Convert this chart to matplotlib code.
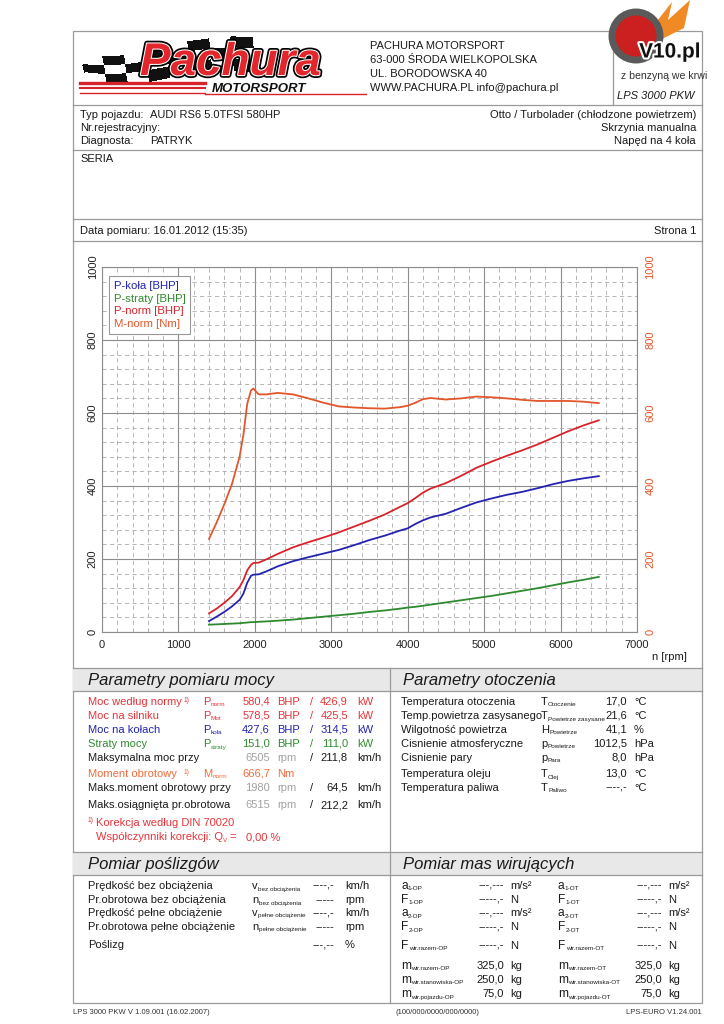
import numpy as np
import matplotlib.pyplot as plt
import matplotlib.patheffects as pe
from matplotlib.colors import ListedColormap
from matplotlib.patches import Rectangle, Circle, Polygon

plt.rcParams['font.family'] = ['Liberation Sans', 'DejaVu Sans']

# dyno run
rpm = [1400, 1500, 1600, 1700, 1800, 1850, 1900, 1950, 1980, 2050, 2150, 2300,
       2500, 2700, 2900, 3100, 3300, 3500, 3700, 3900, 4000, 4100, 4200, 4300,
       4500, 4700, 4900, 5100, 5300, 5500, 5700, 5900, 6100, 6300, 6500]
p_kola = [30, 42, 55, 70, 88, 105, 135, 154, 157, 158, 166, 180,
          194, 205, 215, 225, 238, 252, 264, 278, 284, 296, 306, 314,
          324, 340, 355, 366, 376, 384, 394, 405, 414, 421, 427]
p_straty = [20, 21, 22, 23, 24, 25, 26, 27, 27, 28, 29, 31,
            34, 38, 42, 46, 50, 55, 59, 64, 67, 69, 72, 75,
            81, 87, 93, 99, 106, 113, 120, 128, 136, 143, 151]
p_norm = [51, 64, 80, 98, 123, 142, 169, 184, 189, 190, 199, 214,
          232, 246, 259, 273, 289, 305, 322, 343, 353, 367, 382, 393,
          408, 428, 450, 467, 483, 498, 514, 532, 550, 566, 580]
m_norm = [255, 300, 350, 405, 480, 540, 625, 662, 667, 651, 651, 655,
          651, 640, 628, 618, 615, 613, 612, 616, 620, 628, 638, 641,
          637, 640, 645, 643, 640, 636, 633, 633, 633, 631, 627]

x_ticks = [0, 1000, 2000, 3000, 4000, 5000, 6000, 7000]
y_ticks = [0, 200, 400, 600, 800, 1000]

C_BLUE = '#2323b0'
C_GREEN = '#2e8a2e'
C_RED = '#d8232a'
C_ORANGE = '#e2562a'
C_TXT_RED = '#e5343a'
C_TXT_ORANGE = '#ee6b3e'
C_GRAY = '#a3a3a3'
C_LINE = '#9a9a9a'

W, H = 724, 1024
fig = plt.figure(figsize=(W / 100, H / 100), dpi=100)
bg = fig.add_axes([0, 0, 1, 1])
bg.set_xlim(0, W)
bg.set_ylim(H, 0)
bg.axis('off')
renderer = fig.canvas.get_renderer()

FS = 8


def txt(x, y, s, size=FS, color='#1a1a1a', ha='left', **kw):
    return bg.text(x, y, s, fontsize=size, color=color, ha=ha, va='center', **kw)


def sym(x, y, main, sub, color='#1a1a1a', size=FS, subsize=4.6):
    t = txt(x, y, main, size, color)
    bb = t.get_window_extent(renderer)
    x1 = bg.transData.inverted().transform((bb.x1, bb.y0))[0]
    return txt(x1 + 0.3, y + 3, sub, subsize, color)


def hline(y, x0=73, x1=702):
    bg.plot([x0, x1], [y, y], color=C_LINE, lw=0.9)


def vline(x, y0, y1):
    bg.plot([x, x], [y0, y1], color=C_LINE, lw=0.9)


# frame
bg.add_patch(Rectangle((73, 31), 629, 972, fill=False, ec=C_LINE, lw=0.9))
hline(105)
vline(613, 31, 105)
hline(150)
hline(219)
hline(241)

# Pachura logo: waving checkered flag
nu, nv = 8, 3
U, V = np.meshgrid(np.linspace(0, 1, nu + 1), np.linspace(0, 1, nv + 1))
FX = 82 + 170 * U + 4 * V
FY = 56 - 18 * U + 4 * np.sin(np.pi * 2 * U) + V * (26 + 8 * U)
checks = np.add.outer(np.arange(nv), np.arange(nu)) % 2
bg.pcolormesh(FX, FY, checks, cmap=ListedColormap(['white', '#111111']),
              shading='flat', edgecolors='face', lw=0.3)
for yy, lw in [(83, 2.4), (88, 1.5), (93, 1.0)]:
    bg.plot([80, 205], [yy, yy], color=C_RED, lw=lw)
bg.plot([205, 366], [94, 94], color=C_RED, lw=1.0)
bg.text(140, 63, 'Pachura', fontsize=33, fontweight='bold', style='italic',
        color='#e3262b', va='center',
        path_effects=[pe.Stroke(linewidth=4, foreground='black'),
                      pe.Stroke(linewidth=1.5, foreground='white'), pe.Normal()])
bg.text(212, 89, 'MOTORSPORT', fontsize=9.5, fontweight='bold', style='italic',
        color='#111111', va='center')

# V10 logo
bg.add_patch(Polygon([[650, 30], [672, 2], [668, 20], [690, 0], [684, 28], [660, 40]],
                     fc='#f08a24', ec='none', zorder=2))
bg.add_patch(Circle((636, 36), 24, fc='#cc1f1f', ec='#5a5a5a', lw=5, zorder=3))
bg.text(670, 52, 'V10.pl', fontsize=15, fontweight='bold', color='#111111',
        ha='center', va='center', zorder=4,
        path_effects=[pe.Stroke(linewidth=3, foreground='white'), pe.Normal()])
txt(664, 76, 'z benzyną we krwi', 7.6, '#333333', ha='center', zorder=4)
txt(656, 96, 'LPS 3000 PKW', 8, style='italic', ha='center')

# address
for i, s in enumerate(['PACHURA MOTORSPORT', '63-000 ŚRODA WIELKOPOLSKA',
                       'UL. BORODOWSKA 40', 'WWW.PACHURA.PL info@pachura.pl']):
    txt(370, 46 + 14 * i, s, 8)

# vehicle info
txt(80, 115, 'Typ pojazdu:', 8)
txt(150, 115, 'AUDI RS6 5.0TFSI 580HP', 8)
txt(80, 128, 'Nr.rejestracyjny:', 8)
txt(80, 141, 'Diagnosta:', 8)
txt(150, 141, 'PATRYK', 8)
txt(696, 115, 'Otto / Turbolader (chłodzone powietrzem)', 8, ha='right')
txt(696, 128, 'Skrzynia manualna', 8, ha='right')
txt(696, 141, 'Napęd na 4 koła', 8, ha='right')
txt(80, 159, 'SERIA', 8)
txt(80, 231, 'Data pomiaru: 16.01.2012 (15:35)', 8)
txt(696, 231, 'Strona 1', 8, ha='right')

# chart
ax = fig.add_axes([102 / W, 1 - 632 / H, 535 / W, 365 / H])
ax.plot(rpm, p_kola, color=C_BLUE, lw=1.3, label='P-koła [BHP]')
ax.plot(rpm, p_straty, color=C_GREEN, lw=1.3, label='P-straty [BHP]')
ax.plot(rpm, p_norm, color=C_RED, lw=1.3, label='P-norm [BHP]')
ax.plot(rpm, m_norm, color=C_ORANGE, lw=1.3, label='M-norm [Nm]')
ax.set_xlim(0, 7000)
ax.set_ylim(0, 1000)
ax.set_xticks(x_ticks)
ax.set_xticks(np.arange(0, 7001, 200), minor=True)
ax.set_yticks(y_ticks)
ax.set_yticks(np.arange(0, 1001, 40), minor=True)
ax.grid(which='major', color='#8c8c8c', lw=0.8)
ax.grid(which='minor', color='#ababab', lw=0.6, ls=(0, (5, 4)))
ax.set_axisbelow(True)
ax.tick_params(which='both', length=0, labelsize=8, colors='#222222')
ax.tick_params(axis='x', pad=6)
ax.tick_params(axis='y', pad=3)
ax.set_yticklabels([str(v) for v in y_ticks], rotation=90, va='center')
for s in ax.spines.values():
    s.set_color('#8c8c8c')
    s.set_linewidth(0.8)
ax2 = ax.twinx()
ax2.set_ylim(0, 1000)
ax2.set_yticks(y_ticks)
ax2.set_yticklabels([str(v) for v in y_ticks], rotation=90, va='center')
ax2.tick_params(length=0, labelsize=8, colors=C_ORANGE, pad=6)
for s in ax2.spines.values():
    s.set_visible(False)
leg = ax.legend(loc='upper left', bbox_to_anchor=(0.013, 0.975), borderaxespad=0,
                handlelength=0, handletextpad=0, labelcolor='linecolor',
                fontsize=8.2, fancybox=False, edgecolor='#999999',
                labelspacing=0.25, borderpad=0.4, framealpha=1)
leg.get_frame().set_linewidth(0.8)
txt(669, 657, 'n [rpm]', 8, ha='center')

# section bands
for y0, left, right in [(668, 'Parametry pomiaru mocy', 'Parametry otoczenia'),
                        (852, 'Pomiar poślizgów', 'Pomiar mas wirujących')]:
    bg.fill_between([73, 702], y0, y0 + 23, color='#e8e8e8', lw=0)
    hline(y0)
    hline(y0 + 23)
    txt(88, y0 + 12, left, 12, style='italic')
    txt(403, y0 + 12, right, 12, style='italic')
vline(390, 668, 1003)

# power table
power_rows = [
    ('Moc według normy', 'norm', '580,4', '426,9', C_TXT_RED, 702),
    ('Moc na silniku', 'Mot', '578,5', '425,5', C_TXT_RED, 716),
    ('Moc na kołach', 'koła', '427,6', '314,5', C_BLUE, 730),
    ('Straty mocy', 'straty', '151,0', '111,0', C_GREEN, 744),
]
for label, sub, bhp, kw, col, y in power_rows:
    txt(88, y, label, color=col)
    sym(203, y, 'P', sub, col)
    txt(270, y, bhp, color=col, ha='right')
    txt(277, y, 'BHP', color=col)
    txt(310, y, '/', color=col)
    txt(348, y, kw, color=col, ha='right')
    txt(357, y, 'kW', color=col)
txt(184, 700, '1)', 4.8, C_TXT_RED)

speed_rows = [('Maksymalna moc przy', '6505', '211,8', 758),
              ('Maks.moment obrotowy przy', '1980', '64,5', 788),
              ('Maks.osiągnięta pr.obrotowa', '6515', '212,2', 805)]
for label, n, v, y in speed_rows:
    txt(88, y, label)
    txt(270, y, n, color=C_GRAY, ha='right')
    txt(277, y, 'rpm', color=C_GRAY)
    txt(310, y, '/')
    txt(348, y, v, ha='right')
    txt(357, y, 'km/h')

txt(88, 774, 'Moment obrotowy', color=C_TXT_ORANGE)
txt(184, 772, '1)', 4.8, C_TXT_ORANGE)
sym(203, 774, 'M', 'norm', C_TXT_ORANGE)
txt(270, 774, '666,7', color=C_TXT_ORANGE, ha='right')
txt(277, 774, 'Nm', color=C_TXT_ORANGE)

txt(88, 821, '1)', 4.8, C_TXT_RED)
txt(96, 823, 'Korekcja według DIN 70020', color=C_TXT_RED)
sym(96, 837, 'Współczynniki korekcji: Q', 'V', C_TXT_RED)
txt(229, 837, '=', color=C_TXT_RED)
txt(246, 837, '0,00 %', color=C_TXT_RED)

# ambient table
env_rows = [('Temperatura otoczenia', 'T', 'Otoczenie', '17,0', '°C', 702),
            ('Temp.powietrza zasysanego', 'T', 'Powietrze zasysane', '21,6', '°C', 716),
            ('Wilgotność powietrza', 'H', 'Powietrze', '41,1', '%', 730),
            ('Cisnienie atmosferyczne', 'p', 'Powietrze', '1012,5', 'hPa', 744),
            ('Cisnienie pary', 'p', 'Para', '8,0', 'hPa', 758),
            ('Temperatura oleju', 'T', 'Olej', '13,0', '°C', 774),
            ('Temperatura paliwa', 'T', 'Paliwo', '----,-', '°C', 788)]
for label, s, sub, val, unit, y in env_rows:
    txt(401, y, label)
    sym(541, y, s, sub)
    txt(627, y, val, ha='right')
    txt(634, y, unit)

# slip table
slip_rows = [('Prędkość bez obciążenia', 'v', 'bez obciążenia', '----,-', 'km/h', 886),
             ('Pr.obrotowa bez obciążenia', 'n', 'bez obciążenia', '-----', 'rpm', 900),
             ('Prędkość pełne obciążenie', 'v', 'pełne obciążenie', '----,-', 'km/h', 913),
             ('Pr.obrotowa pełne obciążenie', 'n', 'pełne obciążenie', '-----', 'rpm', 927)]
for label, s, sub, val, unit, y in slip_rows:
    txt(88, y, label)
    sym(252, y, s, sub)
    txt(334, y, val, ha='right')
    txt(345, y, unit)
txt(88, 945, 'Poślizg')
txt(334, 945, '---,--', ha='right')
txt(345, 945, '%')

# rotating mass table
mass_rows = [('a', '1-OP', '---,---', 'm/s²', 'a', '1-OT', 886),
             ('F', '1-OP', '-----,-', 'N', 'F', '1-OT', 900),
             ('a', '2-OP', '---,---', 'm/s²', 'a', '2-OT', 913),
             ('F', '2-OP', '-----,-', 'N', 'F', '2-OT', 927),
             ('F', 'wir.razem-OP', '-----,-', 'N', 'F', 'wir.razem-OT', 946),
             ('m', 'wir.razem-OP', '325,0', 'kg', 'm', 'wir.razem-OT', 966),
             ('m', 'wir.stanowiska-OP', '250,0', 'kg', 'm', 'wir.stanowiska-OT', 980),
             ('m', 'wir.pojazdu-OP', '75,0', 'kg', 'm', 'wir.pojazdu-OT', 994)]
for s1, sub1, val, unit, s2, sub2, y in mass_rows:
    sym(401, y, s1, sub1, size=8.6)
    txt(504, y, val, ha='right')
    txt(510, y, unit)
    sym(558, y, s2, sub2, size=8.6)
    txt(662, y, val, ha='right')
    txt(668, y, unit)

# footer
txt(73, 1013, 'LPS 3000 PKW V 1.09.001 (16.02.2007)', 5.5, '#333333')
txt(395, 1013, '(100/000/0000/000/0000)', 5.5, '#333333')
txt(702, 1013, 'LPS-EURO V1.24.001', 5.5, '#333333', ha='right')

fig.savefig('out.png', dpi=100)
